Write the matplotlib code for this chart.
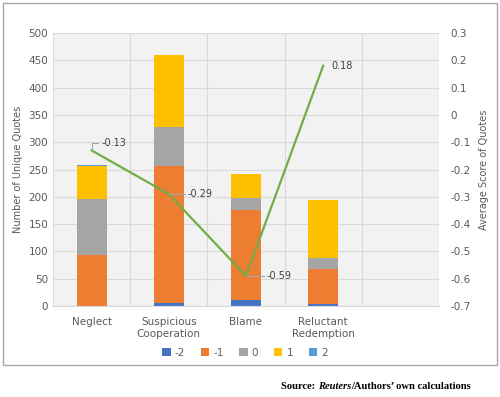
import matplotlib
matplotlib.use("Agg")
import matplotlib.pyplot as plt
from matplotlib.patches import FancyBboxPatch
import numpy as np

categories = ["Neglect", "Suspicious\nCooperation", "Blame", "Reluctant\nRedemption", ""]
series_names = ["-2", "-1", "0", "1", "2"]
v_m2 = [0, 5, 11, 3]
v_m1 = [93, 251, 165, 65]
v_0 = [103, 72, 22, 20]
v_1 = [60, 131, 44, 107]
v_2 = [2, 0, 0, 0]
avg_score = [-0.13, -0.29, -0.59, 0.18]
score_labels = ["-0.13", "-0.29", "-0.59", "0.18"]
colors = ["#4472C4", "#ED7D31", "#A5A5A5", "#FFC000", "#5B9BD5"]
line_color = "#70AD47"
txt = "#595959"

fig = plt.figure(figsize=(5.0, 3.97), dpi=100)
# outer border
border = FancyBboxPatch((0.006, 0.08), 0.988, 0.912, boxstyle="square,pad=0",
                        transform=fig.transFigure, fill=False, edgecolor="#A6A6A6", lw=1.0)
fig.patches.append(border)

ax = fig.add_axes([0.106, 0.229, 0.772, 0.688])
ax.set_facecolor("#F2F2F2")
n = len(categories)
x = np.arange(n)
ax.set_xlim(-0.5, n - 0.5)
ax.set_ylim(0, 500)
ax.set_yticks(np.arange(0, 501, 50))
ax.set_xticks(x)
ax.set_xticks(np.arange(-0.5, n, 1), minor=True)
ax.grid(True, which="major", axis="y", color="#D9D9D9", lw=0.8)
ax.grid(True, which="minor", axis="x", color="#D9D9D9", lw=0.8)
ax.set_axisbelow(True)
ax.set_xticklabels(categories, fontsize=7.5, color=txt)
ax.tick_params(axis="both", which="both", length=0, colors=txt, labelsize=7.5)
ax.tick_params(axis="x", pad=8)
for s in ax.spines.values():
    s.set_visible(False)
ax.spines["bottom"].set_visible(True)
ax.spines["bottom"].set_color("#D9D9D9")

xb = x[:4]
bottom = np.zeros(4)
bars = []
for name, vals, c in zip(series_names, [v_m2, v_m1, v_0, v_1, v_2], colors):
    b = ax.bar(xb, vals, 0.39, bottom=bottom, color=c, label=name, zorder=2)
    bars.append(b)
    bottom += np.array(vals)
ax.set_ylabel("Number of Unique Quotes", fontsize=7, color=txt, labelpad=4)

ax2 = ax.twinx()
ax2.set_ylim(-0.7, 0.3)
ax2.set_yticks(np.round(np.arange(-0.7, 0.31, 0.1), 1))
ax2.set_yticklabels(["-0.7", "-0.6", "-0.5", "-0.4", "-0.3", "-0.2", "-0.1", "0", "0.1", "0.2", "0.3"])
ax2.tick_params(axis="y", length=0, colors=txt, labelsize=7.5, pad=8)
for s in ax2.spines.values():
    s.set_visible(False)
ax2.plot(xb, avg_score, color=line_color, lw=1.6, zorder=3)
ax2.set_ylabel("Average Score of Quotes", fontsize=7, color=txt, labelpad=6)

# data labels with leader lines
offsets = [(0.13, 0.026), (0.24, 0.0), (0.26, 0.0), (0.11, 0.0)]
leader = [True, True, True, False]
for xi, yi, lab, (dx, dy), ld in zip(xb, avg_score, score_labels, offsets, leader):
    ax2.text(xi + dx, yi + dy, lab, fontsize=7, color="#404040", va="center", ha="left")
    if ld:
        if dy > 0:
            ax2.plot([xi, xi, xi + 0.08], [yi, yi + dy, yi + dy], color="#A6A6A6", lw=0.8, zorder=4)
        else:
            ax2.plot([xi, xi + dx - 0.03], [yi, yi + dy], color="#A6A6A6", lw=0.8, zorder=4)

handles = [b.patches[0] for b in bars]
fig.legend(handles, series_names, loc="center", bbox_to_anchor=(0.49, 0.111), ncol=5,
           frameon=False, fontsize=7.5, handlelength=0.8, handleheight=0.8,
           columnspacing=1.5, handletextpad=0.4, labelcolor=txt)

fs = 7.6
ys = 0.026
t1 = fig.text(0.562, ys, "Source: ", fontsize=fs, family="Liberation Serif", weight="bold",
              ha="left", va="center")
fig.canvas.draw()
r = fig.canvas.get_renderer()
bb = t1.get_window_extent(r)
x1 = bb.x1 / fig.bbox.width
t2 = fig.text(x1, ys, "Reuters", fontsize=fs, family="Liberation Serif", weight="bold",
              style="italic", ha="left", va="center")
bb2 = t2.get_window_extent(r)
x2 = bb2.x1 / fig.bbox.width
fig.text(x2, ys, "/Authors\u2019 own calculations", fontsize=fs, family="Liberation Serif",
         weight="bold", ha="left", va="center")

fig.savefig("out.png", dpi=100)
